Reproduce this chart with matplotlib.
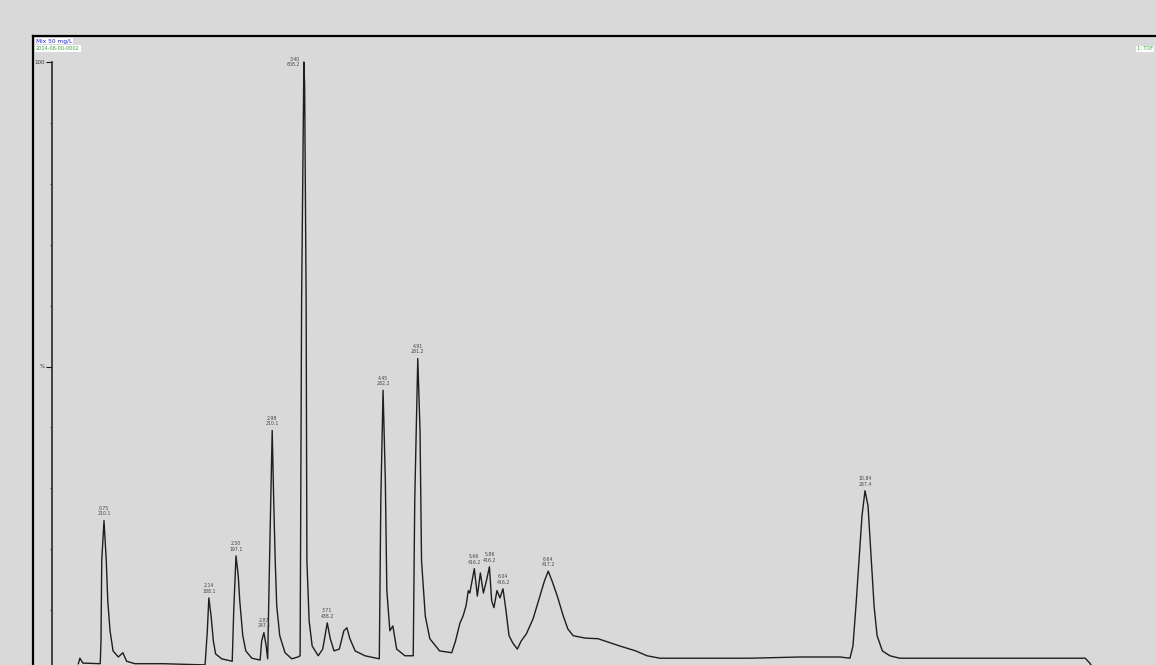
import matplotlib
matplotlib.use('Agg')
import matplotlib.pyplot as plt
from matplotlib.lines import Line2D

# TIC trace, retention time (min) vs relative intensity (%)
times = [0.41, 0.43, 0.47, 0.70, 0.71, 0.72, 0.75, 0.78, 0.80, 0.83, 0.87, 0.94,
         1.00, 1.05, 1.16, 1.53, 2.09, 2.12, 2.14, 2.17, 2.20, 2.23, 2.31, 2.45,
         2.47, 2.50, 2.53, 2.55, 2.59, 2.63, 2.71, 2.82, 2.84, 2.87, 2.90, 2.92,
         2.95, 2.98, 3.00, 3.02, 3.04, 3.08, 3.15, 3.24, 3.32, 3.35, 3.37, 3.40,
         3.41, 3.43, 3.44, 3.47, 3.51, 3.59, 3.65, 3.71, 3.75, 3.80, 3.87, 3.93,
         3.97, 4.01, 4.08, 4.21, 4.40, 4.42, 4.45, 4.48, 4.50, 4.54, 4.58, 4.63,
         4.74, 4.85, 4.87, 4.91, 4.94, 4.96, 5.01, 5.07, 5.20, 5.36, 5.41, 5.47,
         5.51, 5.55, 5.58, 5.60, 5.66, 5.70, 5.74, 5.78, 5.82, 5.86, 5.89, 5.92,
         5.96, 6.00, 6.04, 6.08, 6.12, 6.17, 6.23, 6.28, 6.35, 6.44, 6.53, 6.59,
         6.64, 6.69, 6.76, 6.84, 6.90, 6.97, 7.13, 7.30, 7.59, 7.80, 7.95, 8.12,
         8.65, 9.32, 9.98, 10.51, 10.64, 10.68, 10.72, 10.76, 10.80, 10.84, 10.88,
         10.92, 10.96, 11.00, 11.07, 11.17, 11.30, 12.63, 13.76, 13.82, 13.89]
intensity = [1.2, 2.1, 1.3, 1.2, 4.9, 18.1, 24.7, 18.1, 11.5, 6.6, 3.3, 2.3,
             3.0, 1.6, 1.2, 1.2, 1.0, 6.6, 12.0, 9.0, 4.9, 2.8, 2.0, 1.6,
             9.9, 18.9, 15.6, 11.5, 5.8, 3.3, 2.1, 1.8, 4.9, 6.3, 4.1, 2.0,
             21.4, 39.5, 28.0, 18.1, 10.7, 5.8, 3.0, 2.0, 2.3, 2.5, 60.9, 100.0,
             96.2, 60.9, 18.1, 8.2, 4.1, 2.5, 3.6, 7.9, 5.3, 3.3, 3.6, 6.6,
             7.1, 5.3, 3.3, 2.5, 2.0, 28.0, 46.1, 31.3, 13.2, 6.6, 7.4, 3.6,
             2.5, 2.5, 28.0, 51.3, 39.5, 18.1, 9.0, 5.3, 3.3, 3.0, 4.9, 7.9,
             9.0, 10.7, 13.2, 12.8, 16.8, 12.3, 16.1, 12.8, 14.8, 17.1, 11.5, 10.4,
             13.2, 12.0, 13.5, 9.9, 5.8, 4.6, 3.6, 4.9, 6.1, 8.6, 12.3, 14.8,
             16.4, 14.8, 12.3, 9.0, 6.9, 5.8, 5.4, 5.3, 4.1, 3.3, 2.5, 2.1,
             2.1, 2.1, 2.3, 2.3, 2.1, 4.1, 10.7, 18.1, 25.5, 29.6, 27.1,
             18.9, 10.7, 5.8, 3.3, 2.5, 2.1, 2.1, 2.1, 1.3, 0.0]

# labelled peaks: retention time, base peak m/z
peak_times = [0.75, 2.14, 2.50, 2.87, 2.98, 3.40, 3.71, 4.45, 4.91,
              5.66, 5.86, 6.04, 6.64, 10.84]
peak_height = [24.7, 12.0, 18.9, 6.3, 39.5, 100.0, 7.9, 46.1, 51.3,
               16.8, 17.1, 13.5, 16.4, 29.6]
peak_mz = [210.1, 188.1, 197.1, 247.1, 210.1, 608.2, 438.2, 282.2, 281.2,
           416.2, 416.2, 416.2, 417.2, 267.4]

W, H = 1156, 665
fig = plt.figure(figsize=(W / 100, H / 100), dpi=100, facecolor='#d9d9d9')

# plot area: y axis at x=52px, 100% at y=62px, 0% at y=671px
ax = fig.add_axes([52 / W, 1 - 671 / H, 1 - 52 / W, 609 / H])
ax.set_facecolor('none')
ax.plot(times, intensity, color='#1e1e1e', lw=1.0, clip_on=False)
ax.set_xlim(0.0605, 14.698)
ax.set_ylim(0, 100)

for s in ['top', 'right', 'bottom']:
    ax.spines[s].set_visible(False)
ax.spines['left'].set_color('#2a2a2a')
ax.spines['left'].set_linewidth(1.2)
ax.set_xticks([])
ax.set_yticks([50, 100])
ax.set_yticklabels(['%', '100'])
ax.set_yticks(range(10, 100, 10), minor=True)
ax.tick_params(axis='y', which='major', length=4, width=0.8, pad=1,
               labelsize=4, labelcolor='#333333', color='#1a1a1a')
ax.tick_params(axis='y', which='minor', length=1.5, width=0.6, color='#444444')

for t, h, mz in zip(peak_times, peak_height, peak_mz):
    label = '{:.2f}\n{:.1f}'.format(t, mz)
    if h >= 100:
        ax.annotate(label, xy=(t, h), xytext=(-3, 0), textcoords='offset points',
                    ha='right', va='center', fontsize=3.3, color='#444444',
                    linespacing=1.1, annotation_clip=False)
    else:
        ax.annotate(label, xy=(t, h), xytext=(0, 3), textcoords='offset points',
                    ha='center', va='bottom', fontsize=3.3, color='#444444',
                    linespacing=1.1)

# outer frame of the trace window
fig.add_artist(Line2D([33 / W, 1], [1 - 36 / H, 1 - 36 / H], color='black', lw=1.6))
fig.add_artist(Line2D([33 / W, 33 / W], [0, 1 - 36 / H], color='black', lw=1.6))

box = dict(facecolor='white', edgecolor='none', pad=0.6)
fig.text(36 / W, 1 - 41 / H, 'Mix 50 mg/L', fontsize=4.2, color='#2020e0',
         va='center', ha='left', bbox=box)
fig.text(36 / W, 1 - 48.5 / H, '2014-06-00-0002', fontsize=3.6, color='#30a030',
         va='center', ha='left', bbox=box)
fig.text(1137 / W, 1 - 49 / H, '1: TOF', fontsize=3.6, color='#30a030',
         va='center', ha='left', bbox=box)

fig.savefig('out.png', dpi=100, facecolor=fig.get_facecolor())
